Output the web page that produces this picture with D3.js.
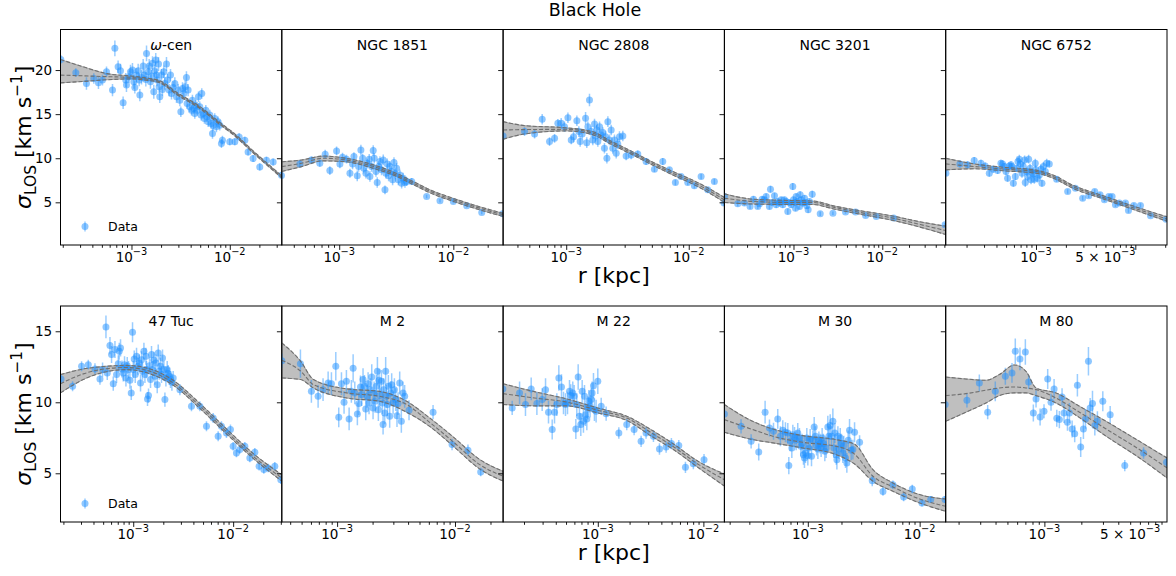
<!DOCTYPE html>
<html><head><meta charset="utf-8">
<script src="https://cdn.jsdelivr.net/npm/d3@7"></script>
<style>body{margin:0;background:#fff} text{font-family:"DejaVu Sans",sans-serif;fill:#000}</style>
</head><body><svg id="c" width="1176" height="576"></svg>
<script>
// ---------- DATA (r given as log10(r/kpc), sigma in km/s, err in km/s) ----------
const panelNames = ["ω-cen","NGC 1851","NGC 2808","NGC 3201","NGC 6752","47 Tuc","M 2","M 22","M 30","M 80"];
const xLimitsLog = [[-3.722,-1.471],[-3.503,-1.564],[-3.515,-1.709],[-3.778,-1.286],[-3.909,-1.681],
                    [-3.728,-1.513],[-3.469,-1.592],[-3.897,-1.801],[-3.746,-1.767],[-3.804,-2.001]];
const xLabelTicks = [[1e-3,1e-2],[1e-3,1e-2],[1e-3,1e-2],[1e-3,1e-2],[1e-3,5e-3],
                     [1e-3,1e-2],[1e-3,1e-2],[1e-3,1e-2],[1e-3,1e-2],[1e-3,5e-3]];
const yLimitsTop = [0.16,24.6], yLimitsBottom = [1.57,16.78];
const yTicksTop = [5,10,15,20], yTicksBottom = [5,10,15];
const suptitle = "Black Hole", xLabel = "r [kpc]", legendLabel = "Data";

const omegaCenData = [[-3.719,21.21,0.5],[-3.566,19.70,0.5],[-3.458,18.48,0.7],[-3.383,19.05,0.6],[-3.336,18.56,0.7],[-3.295,18.86,0.6],[-3.254,19.81,0.6],[-3.193,17.73,0.7],[-3.169,22.46,0.9],[-3.136,20.38,0.7],[-3.112,19.92,0.8],[-3.085,16.29,0.7],[-3.058,18.86,0.8],[-3.051,18.30,0.8],[-3.024,19.24,0.7],[-3.010,19.81,0.8],[-2.990,20.00,0.8],[-2.976,18.67,0.8],[-2.966,18.03,0.7],[-2.949,19.43,0.8],[-2.932,19.92,0.8],[-2.922,18.86,0.7],[-2.915,17.16,0.7],[-2.898,19.17,0.8],[-2.881,20.45,0.8],[-2.871,19.43,0.7],[-2.854,18.94,0.8],[-2.847,21.89,0.9],[-2.831,19.81,0.8],[-2.820,20.45,0.8],[-2.807,18.67,0.8],[-2.797,19.32,0.7],[-2.786,20.76,0.8],[-2.773,17.54,0.8],[-2.763,19.92,0.7],[-2.753,21.14,0.8],[-2.746,19.43,0.7],[-2.739,18.86,0.7],[-2.725,20.68,0.8],[-2.719,18.11,0.7],[-2.712,16.97,0.7],[-2.695,19.43,0.7],[-2.685,17.80,0.7],[-2.671,19.81,0.7],[-2.661,18.48,0.7],[-2.644,20.68,0.8],[-2.634,18.86,0.7],[-2.617,17.73,0.7],[-2.603,19.43,0.7],[-2.593,17.35,0.7],[-2.576,18.03,0.7],[-2.559,18.48,0.7],[-2.542,16.97,0.7],[-2.525,17.73,0.7],[-2.508,16.59,0.7],[-2.498,15.27,0.6],[-2.481,17.92,0.7],[-2.468,17.35,0.7],[-2.454,18.11,0.7],[-2.441,19.17,0.7],[-2.434,16.21,0.6],[-2.424,17.73,0.7],[-2.407,15.83,0.6],[-2.390,15.45,0.6],[-2.380,16.59,0.6],[-2.366,15.64,0.6],[-2.356,15.08,0.6],[-2.346,16.02,0.6],[-2.332,15.45,0.6],[-2.319,16.97,0.6],[-2.305,15.83,0.6],[-2.292,14.89,0.6],[-2.285,17.35,0.6],[-2.271,15.08,0.6],[-2.258,14.51,0.6],[-2.244,15.45,0.6],[-2.231,14.70,0.6],[-2.220,14.13,0.6],[-2.203,14.89,0.6],[-2.190,13.94,0.6],[-2.176,12.80,0.6],[-2.169,13.75,0.6],[-2.153,14.51,0.6],[-2.136,13.56,0.6],[-2.119,14.13,0.6],[-2.102,13.75,0.6],[-2.085,11.67,0.5],[-2.075,12.05,0.5],[-2.000,11.86,0.4],[-1.949,11.86,0.4],[-1.905,12.42,0.4],[-1.847,12.05,0.4],[-1.814,10.72,0.4],[-1.763,9.96,0.4],[-1.695,9.02,0.4],[-1.627,9.77,0.4],[-1.559,9.58,0.4],[-1.474,8.07,0.4]];
const omegaCenModel = [[-3.722,18.55,19.43,21.20],[-3.50,18.70,19.35,20.40],[-3.25,18.90,19.25,19.60],[-3.00,19.00,19.17,19.32],[-2.85,18.85,18.98,19.10],[-2.712,18.55,18.67,18.80],[-2.542,17.22,17.35,17.48],[-2.305,15.64,15.76,15.88],[-2.102,13.82,13.94,14.06],[-1.966,12.68,12.80,12.92],[-1.763,10.60,10.72,10.84],[-1.471,7.76,7.88,8.00]];

const ngc1851Data = [[-3.506,8.04,0.3],[-3.345,9.36,0.4],[-3.243,9.81,0.4],[-3.170,9.43,0.4],[-3.123,10.45,0.5],[-3.082,8.60,0.5],[-3.023,10.83,0.5],[-2.994,9.36,0.5],[-2.971,10.11,0.5],[-2.936,9.89,0.5],[-2.906,8.30,0.5],[-2.883,9.36,0.6],[-2.871,10.19,0.5],[-2.842,8.00,0.6],[-2.830,9.06,0.6],[-2.810,10.94,0.6],[-2.795,10.00,0.5],[-2.784,8.87,0.6],[-2.766,8.30,0.6],[-2.754,9.43,0.5],[-2.737,9.89,0.6],[-2.731,7.92,0.6],[-2.716,9.06,0.6],[-2.702,10.87,0.6],[-2.693,10.00,0.6],[-2.678,8.49,0.6],[-2.667,7.25,0.6],[-2.655,9.06,0.6],[-2.643,9.62,0.6],[-2.629,8.68,0.6],[-2.614,9.81,0.6],[-2.599,6.42,0.5],[-2.591,8.30,0.6],[-2.579,9.36,0.6],[-2.567,8.00,0.6],[-2.556,9.06,0.6],[-2.541,8.49,0.6],[-2.532,7.55,0.6],[-2.520,9.51,0.6],[-2.509,8.23,0.6],[-2.497,8.87,0.6],[-2.482,7.55,0.6],[-2.468,8.11,0.6],[-2.453,7.17,0.6],[-2.439,7.74,0.6],[-2.424,7.25,0.6],[-2.409,7.36,0.5],[-2.365,7.36,0.4],[-2.234,5.66,0.2],[-2.117,5.17,0.2],[-2.000,5.09,0.2],[-1.883,4.60,0.2],[-1.751,3.85,0.2],[-1.567,3.70,0.2]];
const ngc1851Model = [[-3.503,8.50,9.06,9.60],[-3.33,9.05,9.43,9.80],[-3.14,9.70,10.00,10.25],[-2.94,9.60,9.80,10.00],[-2.70,8.85,9.06,9.25],[-2.50,7.95,8.11,8.30],[-2.35,7.00,7.17,7.35],[-2.20,6.05,6.23,6.40],[-2.00,5.10,5.28,5.45],[-1.77,4.15,4.34,4.50],[-1.564,3.40,3.58,3.75]];

const ngc2808Data = [[-3.515,12.53,0.4],[-3.340,13.02,0.5],[-3.258,12.75,0.5],[-3.196,14.42,0.6],[-3.136,11.89,0.5],[-3.095,12.26,0.5],[-3.068,13.96,0.5],[-3.041,13.96,0.6],[-3.014,13.58,0.6],[-2.986,14.60,0.6],[-2.959,12.08,0.5],[-2.940,12.45,0.6],[-2.913,14.26,0.6],[-2.897,13.02,0.6],[-2.886,11.89,0.6],[-2.870,12.75,0.6],[-2.842,14.53,0.7],[-2.832,11.77,0.6],[-2.823,13.58,0.6],[-2.810,16.60,0.7],[-2.796,13.02,0.6],[-2.783,12.08,0.6],[-2.769,13.89,0.6],[-2.761,12.53,0.6],[-2.750,13.21,0.6],[-2.742,11.89,0.6],[-2.728,13.58,0.6],[-2.715,12.64,0.6],[-2.701,12.91,0.6],[-2.688,11.13,0.6],[-2.679,12.45,0.6],[-2.668,10.00,0.6],[-2.660,14.15,0.6],[-2.647,12.08,0.6],[-2.633,13.21,0.6],[-2.620,11.13,0.6],[-2.606,12.08,0.6],[-2.592,10.57,0.6],[-2.579,11.62,0.6],[-2.565,12.45,0.6],[-2.538,12.53,0.6],[-2.511,10.26,0.5],[-2.470,10.38,0.5],[-2.416,10.49,0.4],[-2.348,9.62,0.4],[-2.280,8.75,0.3],[-2.212,9.62,0.4],[-2.158,8.68,0.3],[-2.109,7.25,0.3],[-2.063,7.92,0.3],[-2.008,7.25,0.3],[-1.954,6.87,0.3],[-1.899,7.92,0.3],[-1.845,6.42,0.3],[-1.791,7.36,0.3],[-1.712,4.91,0.3]];
const ngc2808Model = [[-3.515,12.15,13.20,14.15],[-3.34,12.75,13.25,13.70],[-3.00,13.10,13.28,13.45],[-2.78,12.65,12.83,13.00],[-2.65,11.70,11.89,12.05],[-2.46,10.40,10.57,10.75],[-2.30,9.25,9.43,9.60],[-2.13,8.10,8.30,8.50],[-1.92,6.75,6.98,7.20],[-1.709,5.00,5.28,5.55]];

const ngc3201Data = [[-3.778,5.66,0.3],[-3.628,4.83,0.3],[-3.553,4.91,0.3],[-3.489,4.53,0.3],[-3.451,5.36,0.35],[-3.402,4.53,0.3],[-3.383,4.83,0.3],[-3.353,5.36,0.35],[-3.327,5.28,0.35],[-3.308,5.66,0.35],[-3.271,4.53,0.35],[-3.259,6.49,0.4],[-3.241,4.98,0.35],[-3.214,5.74,0.35],[-3.195,4.72,0.35],[-3.177,5.09,0.35],[-3.158,4.91,0.35],[-3.139,5.28,0.35],[-3.120,4.72,0.35],[-3.102,5.28,0.35],[-3.083,5.09,0.35],[-3.064,3.96,0.35],[-3.045,4.98,0.35],[-3.026,4.72,0.35],[-3.008,6.79,0.4],[-3.000,5.28,0.35],[-2.989,4.98,0.35],[-2.977,4.34,0.35],[-2.970,5.66,0.35],[-2.951,5.09,0.35],[-2.932,4.53,0.35],[-2.925,5.85,0.4],[-2.914,5.28,0.35],[-2.895,4.91,0.35],[-2.876,5.47,0.35],[-2.865,4.98,0.35],[-2.850,4.60,0.35],[-2.835,4.15,0.35],[-2.820,5.09,0.35],[-2.789,5.92,0.4],[-2.699,3.70,0.25],[-2.556,3.77,0.2],[-2.414,3.89,0.2],[-2.301,3.89,0.2],[-2.188,3.51,0.2],[-2.068,3.40,0.2],[-1.872,3.21,0.2],[-1.293,2.45,0.2]];
const ngc3201Model = [[-3.778,4.98,5.47,5.96],[-3.45,4.80,5.10,5.35],[-3.00,4.75,4.98,5.20],[-2.78,4.75,4.98,5.15],[-2.55,4.25,4.45,4.60],[-2.25,3.65,3.85,4.05],[-1.88,2.95,3.21,3.45],[-1.58,2.20,2.50,2.80],[-1.286,1.35,1.80,2.30]];

const ngc6752Data = [[-3.907,8.30,0.3],[-3.766,9.36,0.4],[-3.689,9.25,0.4],[-3.622,9.74,0.4],[-3.554,9.43,0.4],[-3.511,9.13,0.4],[-3.470,8.30,0.4],[-3.430,8.75,0.4],[-3.386,8.60,0.4],[-3.353,9.43,0.4],[-3.336,9.36,0.4],[-3.319,9.06,0.4],[-3.302,8.49,0.4],[-3.286,7.74,0.4],[-3.269,9.13,0.4],[-3.252,9.25,0.4],[-3.242,9.06,0.4],[-3.228,7.17,0.4],[-3.208,7.92,0.4],[-3.195,8.87,0.4],[-3.181,9.62,0.5],[-3.168,9.89,0.5],[-3.158,9.36,0.5],[-3.141,8.30,0.5],[-3.128,9.06,0.5],[-3.114,9.81,0.5],[-3.108,7.25,0.5],[-3.094,8.49,0.5],[-3.084,7.92,0.5],[-3.074,9.89,0.5],[-3.060,8.87,0.5],[-3.050,7.55,0.5],[-3.040,8.38,0.5],[-3.027,8.23,0.5],[-3.017,7.62,0.5],[-3.007,9.43,0.5],[-3.000,8.68,0.5],[-2.983,7.74,0.5],[-2.966,8.11,0.5],[-2.950,8.75,0.5],[-2.940,7.17,0.4],[-2.926,9.06,0.5],[-2.906,8.49,0.5],[-2.892,9.43,0.5],[-2.866,9.36,0.4],[-2.792,7.62,0.3],[-2.681,6.23,0.25],[-2.603,6.60,0.25],[-2.530,5.47,0.25],[-2.469,5.74,0.25],[-2.409,6.23,0.25],[-2.355,5.85,0.25],[-2.311,5.28,0.25],[-2.267,5.66,0.25],[-2.234,5.66,0.25],[-2.200,4.72,0.25],[-2.160,4.91,0.25],[-2.099,4.91,0.25],[-2.069,4.08,0.25],[-2.015,4.64,0.25],[-1.948,4.64,0.25],[-1.847,3.47,0.2],[-1.690,3.09,0.2]];
const ngc6752Model = [[-3.909,8.68,9.36,10.00],[-3.62,8.80,9.06,9.35],[-3.30,8.55,8.75,8.95],[-3.00,8.30,8.49,8.65],[-2.83,7.75,7.92,8.10],[-2.63,6.60,6.79,6.95],[-2.30,5.30,5.47,5.65],[-1.96,3.95,4.15,4.35],[-1.681,2.85,3.09,3.35]];

const tuc47Data = [[-3.723,11.64,0.3],[-3.607,11.13,0.35],[-3.517,12.54,0.35],[-3.450,12.65,0.35],[-3.383,12.35,0.4],[-3.333,11.64,0.4],[-3.307,12.30,0.5],[-3.273,15.31,0.8],[-3.260,12.07,0.5],[-3.233,13.99,0.6],[-3.217,13.36,0.6],[-3.200,11.31,0.5],[-3.183,13.71,0.6],[-3.167,11.95,0.6],[-3.150,12.72,0.6],[-3.140,13.59,0.6],[-3.127,13.83,0.6],[-3.113,12.35,0.6],[-3.100,12.07,0.6],[-3.087,12.65,0.6],[-3.073,11.71,0.6],[-3.060,12.58,0.6],[-3.047,12.30,0.6],[-3.033,11.55,0.6],[-3.020,10.66,0.5],[-3.007,14.93,0.7],[-3.000,12.30,0.6],[-2.990,13.05,0.6],[-2.980,11.95,0.6],[-2.967,13.24,0.6],[-2.953,12.54,0.6],[-2.940,12.77,0.6],[-2.927,11.36,0.6],[-2.917,13.00,0.6],[-2.907,12.18,0.6],[-2.893,13.59,0.6],[-2.883,11.95,0.6],[-2.873,13.24,0.6],[-2.867,12.30,0.6],[-2.857,10.23,0.5],[-2.847,10.47,0.5],[-2.837,12.58,0.6],[-2.827,11.60,0.6],[-2.817,13.36,0.6],[-2.807,12.30,0.6],[-2.793,12.96,0.6],[-2.783,11.83,0.6],[-2.773,12.77,0.6],[-2.760,11.24,0.6],[-2.750,13.47,0.6],[-2.740,12.18,0.6],[-2.727,12.54,0.6],[-2.717,11.95,0.6],[-2.707,13.12,0.6],[-2.693,12.30,0.6],[-2.683,10.19,0.5],[-2.673,11.71,0.6],[-2.660,12.30,0.6],[-2.650,12.02,0.6],[-2.640,11.83,0.6],[-2.627,11.60,0.6],[-2.613,11.41,0.6],[-2.600,11.71,0.5],[-2.533,10.89,0.4],[-2.417,9.72,0.35],[-2.333,9.72,0.35],[-2.267,8.31,0.35],[-2.200,8.90,0.35],[-2.150,7.61,0.35],[-2.117,8.31,0.35],[-2.067,7.84,0.35],[-2.027,8.08,0.35],[-2.000,6.90,0.3],[-1.967,6.43,0.3],[-1.933,6.67,0.3],[-1.883,6.90,0.3],[-1.833,6.08,0.3],[-1.783,6.48,0.3],[-1.740,5.49,0.3],[-1.693,5.26,0.3],[-1.650,5.38,0.3],[-1.583,5.49,0.3],[-1.523,4.55,0.3]];
const tuc47Model = [[-3.728,10.66,11.31,11.95],[-3.50,11.60,12.00,12.35],[-3.33,12.05,12.30,12.50],[-3.07,12.30,12.45,12.60],[-2.83,12.00,12.18,12.35],[-2.60,11.20,11.36,11.55],[-2.33,9.55,9.72,9.90],[-2.07,7.80,7.96,8.15],[-1.80,6.05,6.20,6.40],[-1.513,4.45,4.67,4.90]];

const m2Data = [[-3.469,12.93,0.5],[-3.311,12.72,1.0],[-3.218,10.77,0.8],[-3.161,10.42,0.8],[-3.119,10.89,0.8],[-3.076,11.36,0.8],[-3.048,11.31,0.8],[-3.011,12.54,1.0],[-2.986,8.94,0.7],[-2.963,11.31,0.8],[-2.941,10.00,0.8],[-2.921,11.48,0.8],[-2.898,8.83,0.8],[-2.879,10.77,0.8],[-2.864,12.39,1.0],[-2.850,10.66,0.8],[-2.828,9.18,0.8],[-2.816,9.91,0.8],[-2.802,11.08,0.8],[-2.791,10.54,0.8],[-2.780,11.60,0.8],[-2.768,11.13,0.8],[-2.757,9.53,0.8],[-2.746,10.42,0.8],[-2.737,11.31,0.8],[-2.729,9.95,0.8],[-2.718,10.89,0.8],[-2.706,11.78,0.9],[-2.695,9.60,0.8],[-2.686,10.66,0.8],[-2.678,10.07,0.8],[-2.667,11.13,0.8],[-2.658,12.18,1.0],[-2.650,9.48,0.8],[-2.644,11.55,0.8],[-2.638,10.47,0.8],[-2.624,11.48,0.8],[-2.616,9.95,0.8],[-2.610,8.43,0.7],[-2.605,10.89,0.8],[-2.596,9.25,0.8],[-2.588,12.18,1.0],[-2.582,10.42,0.8],[-2.573,9.84,0.8],[-2.565,11.13,0.8],[-2.554,9.01,0.8],[-2.545,10.66,0.8],[-2.537,11.24,0.8],[-2.525,9.95,0.8],[-2.514,10.89,0.8],[-2.503,10.19,0.8],[-2.492,9.06,0.8],[-2.483,9.91,0.8],[-2.469,11.36,0.8],[-2.455,8.66,0.8],[-2.441,10.66,0.8],[-2.427,10.42,0.8],[-2.390,9.44,0.7],[-2.186,9.30,0.5],[-2.025,7.02,0.4],[-1.890,6.62,0.4],[-1.782,5.09,0.3]];
const m2Model = [[-3.469,11.71,12.96,14.18],[-3.31,11.60,12.20,12.90],[-3.20,11.00,11.24,11.60],[-2.92,10.30,10.66,10.95],[-2.64,10.07,10.42,10.77],[-2.41,9.30,9.84,10.07],[-2.215,8.30,8.59,8.90],[-2.02,6.95,7.25,7.60],[-1.79,5.30,5.61,5.97],[-1.592,4.45,4.79,5.14]];

const m22Data = [[-3.899,10.94,0.4],[-3.811,9.60,0.5],[-3.741,10.66,0.8],[-3.685,9.84,0.8],[-3.631,10.94,0.8],[-3.577,9.91,0.8],[-3.527,10.19,0.8],[-3.495,10.89,0.8],[-3.467,9.30,0.8],[-3.432,8.08,0.7],[-3.410,9.30,0.8],[-3.388,9.84,0.8],[-3.369,11.71,0.9],[-3.344,11.08,0.9],[-3.325,9.95,0.8],[-3.306,9.84,0.8],[-3.287,9.95,0.8],[-3.268,10.77,0.8],[-3.256,10.47,0.8],[-3.237,10.66,0.8],[-3.224,10.42,0.8],[-3.208,8.12,0.7],[-3.199,9.84,0.8],[-3.186,11.78,0.9],[-3.174,9.01,0.8],[-3.161,8.43,0.8],[-3.148,10.77,0.8],[-3.136,8.66,0.8],[-3.126,10.42,0.8],[-3.117,9.13,0.8],[-3.104,8.83,0.8],[-3.095,9.60,0.8],[-3.085,10.07,0.8],[-3.073,9.72,0.8],[-3.063,10.19,0.8],[-3.054,10.66,0.8],[-3.041,11.17,0.9],[-3.032,9.48,0.8],[-3.016,9.37,0.8],[-3.000,11.48,0.9],[-2.968,9.72,0.6],[-2.921,9.20,0.5],[-2.801,7.84,0.4],[-2.726,8.43,0.4],[-2.656,8.08,0.4],[-2.590,7.25,0.4],[-2.543,7.84,0.4],[-2.473,7.61,0.4],[-2.416,6.71,0.4],[-2.353,6.85,0.4],[-2.303,7.09,0.4],[-2.233,6.95,0.4],[-2.170,5.42,0.4],[-2.095,5.68,0.4],[-1.994,5.96,0.4]];
const m22Model = [[-3.897,9.84,10.61,11.31],[-3.60,9.75,10.30,10.75],[-3.30,9.75,10.02,10.25],[-3.00,9.25,9.44,9.60],[-2.72,8.70,8.87,9.00],[-2.49,7.60,7.84,8.05],[-2.29,6.70,6.90,7.10],[-2.04,5.35,5.59,5.80],[-1.801,4.10,4.55,4.95]];

const m30Data = [[-3.746,9.18,0.4],[-3.597,8.31,0.5],[-3.507,7.25,0.5],[-3.439,6.50,0.6],[-3.382,9.30,0.8],[-3.343,8.19,0.6],[-3.307,7.96,0.6],[-3.269,8.83,0.7],[-3.245,7.61,0.7],[-3.224,8.03,0.7],[-3.200,7.89,0.7],[-3.179,7.84,0.7],[-3.170,5.54,0.6],[-3.158,7.25,0.7],[-3.143,6.78,0.7],[-3.134,7.72,0.7],[-3.119,7.56,0.7],[-3.104,7.32,0.7],[-3.090,7.84,0.7],[-3.075,7.49,0.7],[-3.063,6.90,0.7],[-3.051,7.09,0.7],[-3.039,6.31,0.7],[-3.030,6.08,0.7],[-3.021,6.43,0.7],[-3.009,7.49,0.7],[-3.000,6.24,0.7],[-2.991,6.78,0.7],[-2.979,7.42,0.7],[-2.967,6.20,0.7],[-2.955,7.32,0.7],[-2.943,8.26,0.7],[-2.931,7.61,0.7],[-2.922,6.95,0.7],[-2.910,6.71,0.7],[-2.901,7.25,0.7],[-2.890,7.09,0.7],[-2.881,6.85,0.7],[-2.872,7.49,0.7],[-2.860,7.09,0.7],[-2.848,6.55,0.7],[-2.836,6.78,0.7],[-2.821,8.26,0.8],[-2.812,7.61,0.7],[-2.800,8.36,0.8],[-2.788,7.61,0.7],[-2.776,8.66,0.9],[-2.767,6.78,0.7],[-2.758,7.84,0.7],[-2.746,6.31,0.7],[-2.740,5.96,0.7],[-2.731,7.61,0.7],[-2.722,6.71,0.7],[-2.710,7.49,0.7],[-2.699,7.09,0.7],[-2.687,6.43,0.7],[-2.678,6.95,0.7],[-2.663,6.08,0.7],[-2.651,5.73,0.7],[-2.639,7.32,0.7],[-2.627,8.03,0.8],[-2.612,6.62,0.7],[-2.597,6.67,0.7],[-2.582,7.89,0.7],[-2.537,7.18,0.5],[-2.424,4.48,0.4],[-2.328,3.71,0.3],[-2.239,4.20,0.3],[-2.143,3.33,0.3],[-2.066,3.90,0.3],[-1.979,2.91,0.25],[-1.901,3.15,0.25],[-1.773,3.15,0.25]];
const m30Model = [[-3.746,7.89,8.78,9.84],[-3.493,7.37,8.08,8.66],[-3.313,7.14,7.61,8.12],[-3.045,6.78,7.18,7.65],[-2.746,6.31,6.90,7.37],[-2.582,5.65,6.35,7.05],[-2.418,4.44,4.79,5.26],[-2.239,3.73,4.04,4.32],[-2.00,2.91,3.19,3.50],[-1.767,2.32,2.68,3.19]];

const m80Data = [[-3.808,9.84,0.5],[-3.631,10.14,0.5],[-3.530,11.36,0.6],[-3.462,9.30,0.5],[-3.400,10.77,0.7],[-3.318,11.83,0.6],[-3.264,12.07,0.7],[-3.237,13.59,0.9],[-3.199,13.05,0.8],[-3.155,13.54,0.9],[-3.128,11.43,0.5],[-3.090,9.25,0.6],[-3.068,10.23,0.6],[-3.035,8.97,0.6],[-3.003,9.37,0.5],[-2.973,11.64,0.7],[-2.946,10.00,0.6],[-2.921,10.94,0.7],[-2.899,8.87,0.6],[-2.878,8.78,0.6],[-2.856,10.38,0.6],[-2.840,9.25,0.7],[-2.812,8.59,0.6],[-2.796,9.25,0.7],[-2.774,8.12,0.6],[-2.753,7.79,0.6],[-2.731,11.20,0.8],[-2.704,6.85,0.7],[-2.682,8.12,0.7],[-2.665,8.83,0.7],[-2.641,12.89,1.0],[-2.627,9.60,0.7],[-2.608,9.91,0.9],[-2.589,8.36,0.7],[-2.568,8.66,0.7],[-2.524,10.07,0.7],[-2.464,9.13,0.6],[-2.345,5.54,0.4],[-2.192,6.43,0.4],[-2.005,5.77,0.4]];
const m80Model = [[-3.804,8.66,10.47,11.78],[-3.639,9.30,10.61,11.64],[-3.476,9.95,10.85,11.55],[-3.367,10.47,11.01,11.95],[-3.245,10.66,11.08,12.63],[-3.150,10.66,11.01,12.18],[-3.068,10.47,10.89,11.01],[-2.905,9.95,10.30,10.66],[-2.714,8.92,9.30,9.72],[-2.497,7.61,8.12,8.66],[-2.225,6.08,6.67,7.25],[-2.001,4.67,5.38,6.08]];

const panelData = [omegaCenData,ngc1851Data,ngc2808Data,ngc3201Data,ngc6752Data,tuc47Data,m2Data,m22Data,m30Data,m80Data];
const panelModels = [omegaCenModel,ngc1851Model,ngc2808Model,ngc3201Model,ngc6752Model,tuc47Model,m2Model,m22Model,m30Model,m80Model];

// ---------- LAYOUT ----------
const svg = d3.select("#c");
const left = 60.5, pw = 221.3;
const rows = [{top:29.5, bottom:245, lim:yLimitsTop, ticks:yTicksTop},
              {top:306, bottom:522, lim:yLimitsBottom, ticks:yTicksBottom}];
const BLUE = "#1E90FF";
const FS_TICK = 13.5;

svg.append("text").attr("x",595).attr("y",16).attr("text-anchor","middle")
   .style("font-size","17.5px").text(suptitle);

const defs = svg.append("defs");

panelNames.forEach((name,i)=>{
  const r = rows[Math.floor(i/5)], col = i%5;
  const x0 = left + col*pw, x1 = x0 + pw;
  const lim = xLimitsLog[i];
  const x = d3.scaleLog().domain([Math.pow(10,lim[0]), Math.pow(10,lim[1])]).range([x0,x1]);
  const y = d3.scaleLinear().domain(r.lim).range([r.bottom, r.top]);
  const g = svg.append("g");
  defs.append("clipPath").attr("id","clip"+i).append("rect")
      .attr("x",x0).attr("y",r.top).attr("width",pw).attr("height",r.bottom-r.top);
  const plot = g.append("g").attr("clip-path",`url(#clip${i})`);

  // model band (underneath)
  const m = panelModels[i];
  const area = d3.area().x(d=>x(Math.pow(10,d[0]))).y0(d=>y(d[1])).y1(d=>y(d[3])).curve(d3.curveMonotoneX);
  plot.append("path").attr("d",area(m)).attr("fill","#808080").attr("fill-opacity",0.5)
      .attr("stroke","#808080").attr("stroke-opacity",0.6).attr("stroke-width",1);

  // data points with error bars
  const pts = panelData[i];
  plot.append("g").selectAll("line").data(pts).join("line")
    .attr("x1",d=>x(Math.pow(10,d[0]))).attr("x2",d=>x(Math.pow(10,d[0])))
    .attr("y1",d=>y(d[1]-d[2])).attr("y2",d=>y(d[1]+d[2]))
    .attr("stroke",BLUE).attr("stroke-opacity",0.45).attr("stroke-width",1.5);
  plot.append("g").selectAll("circle").data(pts).join("circle")
    .attr("cx",d=>x(Math.pow(10,d[0]))).attr("cy",d=>y(d[1])).attr("r",3.5)
    .attr("fill",BLUE).attr("fill-opacity",0.5);

  // dashed percentile lines
  [1,2,3].forEach(k=>{
    const ln = d3.line().x(d=>x(Math.pow(10,d[0]))).y(d=>y(d[k])).curve(d3.curveMonotoneX);
    plot.append("path").attr("d",ln(m)).attr("fill","none").attr("stroke","#707070")
        .attr("stroke-width",1.1).attr("stroke-dasharray","4,2");
  });

  // x axis ticks
  const majors=[], minors=[];
  for(let e=-5;e<=0;e++){ for(let k=1;k<=9;k++){ const v=k*Math.pow(10,e); const lv=Math.log10(v);
      if(lv>=lim[0]-1e-9 && lv<=lim[1]+1e-9){ (k===1?majors:minors).push(v);} } }
  const axMin = g.append("g").attr("transform",`translate(0,${r.bottom})`)
     .call(d3.axisBottom(x).tickValues(minors).tickSize(2.8).tickFormat(""));
  const axMaj = g.append("g").attr("transform",`translate(0,${r.bottom})`)
     .call(d3.axisBottom(x).tickValues(majors).tickSize(4.9).tickFormat(""));
  [axMin,axMaj].forEach(a=>{a.select(".domain").remove(); a.selectAll("line").attr("stroke","#000").attr("stroke-width",0.9);});
  // labels
  xLabelTicks[i].forEach(v=>{
    const e = Math.floor(Math.log10(v)+1e-9), mant = Math.round(v/Math.pow(10,e));
    const t = g.append("text").attr("x",x(v)).attr("y",r.bottom+17).attr("text-anchor","middle")
      .style("font-size",FS_TICK+"px");
    t.append("tspan").text(mant===1 ? "10" : mant+" × 10");
    t.append("tspan").attr("dy",-7).style("font-size","9.8px").text("\u2212"+Math.abs(e));
  });

  // y axis
  const ya = g.append("g").attr("transform",`translate(${x0},0)`)
    .call(d3.axisLeft(y).tickValues(r.ticks).tickSize(4.9).tickPadding(3.5).tickFormat(col===0?d3.format("d"):""));
  ya.select(".domain").remove();
  ya.selectAll("line").attr("stroke","#000").attr("stroke-width",0.9);
  ya.selectAll("text").style("font-size",FS_TICK+"px").style("font-family","DejaVu Sans");

  // frame
  g.append("rect").attr("x",x0).attr("y",r.top).attr("width",pw).attr("height",r.bottom-r.top)
   .attr("fill","none").attr("stroke","#000").attr("stroke-width",1);

  // panel title
  const tt = g.append("text").attr("x",(x0+x1)/2).attr("y",r.top+20).attr("text-anchor","middle").style("font-size","14px");
  if(name.startsWith("ω")){ tt.append("tspan").style("font-style","italic").text("ω"); tt.append("tspan").text(name.slice(1)); }
  else tt.text(name);

  // legend in first column
  if(col===0){
    const ly = r.bottom - 18.5;
    g.append("line").attr("x1",85).attr("x2",85).attr("y1",ly-5).attr("y2",ly+5)
     .attr("stroke",BLUE).attr("stroke-opacity",0.45).attr("stroke-width",1.5);
    g.append("circle").attr("cx",85).attr("cy",ly).attr("r",3.5).attr("fill",BLUE).attr("fill-opacity",0.5);
    g.append("text").attr("x",108).attr("y",ly+4.5).style("font-size","12.5px").text(legendLabel);
  }
});

// axis labels
rows.forEach(r=>{
  svg.append("text").attr("x",left+2.5*pw).attr("y",r.bottom+38).attr("text-anchor","middle")
     .style("font-size","22px").text(xLabel);
  const cy=(r.top+r.bottom)/2;
  const t = svg.append("text").attr("transform",`translate(31,${cy}) rotate(-90)`).attr("text-anchor","middle")
     .style("font-size","22px");
  t.append("tspan").style("font-style","italic").text("σ");
  t.append("tspan").attr("dy",4.5).style("font-size","15.4px").text("LOS");
  t.append("tspan").attr("dy",-4.5).text(" [km s");
  t.append("tspan").attr("dy",-9).style("font-size","15.4px").text("\u22121");
  t.append("tspan").attr("dy",9).text("]");
});
</script></body></html>
